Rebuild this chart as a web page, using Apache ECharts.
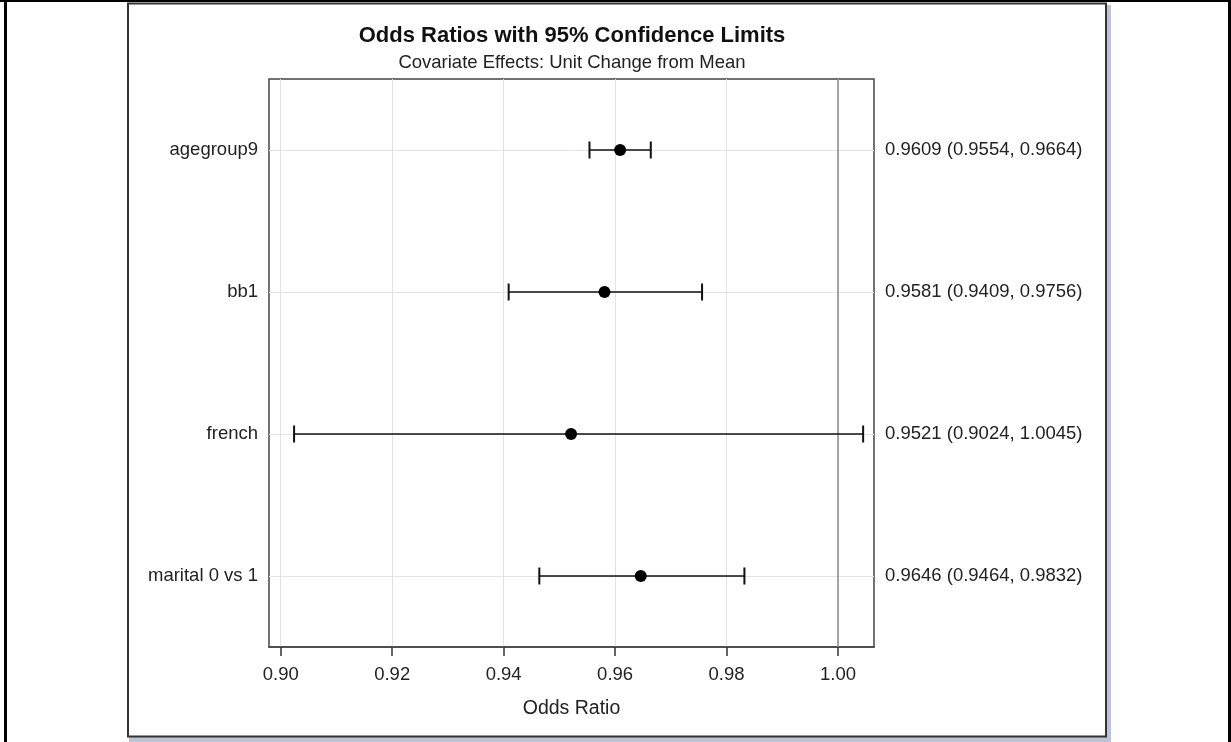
<!DOCTYPE html>
<html>
<head>
<meta charset="utf-8">
<script src="https://cdn.jsdelivr.net/npm/echarts@6/dist/echarts.min.js"></script>
<style>
html,body{margin:0;padding:0;background:#fff;}
#chart{width:1231px;height:742px;}
</style>
</head>
<body>
<div id="chart"></div>
<script>
var categories = ['agegroup9', 'bb1', 'french', 'marital 0 vs 1'];
var estimates = [0.9609, 0.9581, 0.9521, 0.9646];
var lowerCL = [0.9554, 0.9409, 0.9024, 0.9464];
var upperCL = [0.9664, 0.9756, 1.0045, 0.9832];
var xTicks = [0.90, 0.92, 0.94, 0.96, 0.98, 1.00];
var refValue = 1.00;

var FONT = "'Liberation Sans', Arial, sans-serif";
var rightLabels = categories.map(function (c, i) {
  return estimates[i].toFixed(4) + ' (' + lowerCL[i].toFixed(4) + ', ' + upperCL[i].toFixed(4) + ')';
});
var seriesData = categories.map(function (c, i) {
  return [i, estimates[i], lowerCL[i], upperCL[i]];
});

var chart = echarts.init(document.getElementById('chart'), null, {renderer: 'canvas'});
var option = {
  backgroundColor: '#ffffff',
  animation: false,
  graphic: [
    {type: 'rect', z: -10, silent: true, shape: {x: 129, y: 5, width: 982, height: 737}, style: {fill: '#bcc3d6'}},
    {type: 'rect', z: -9, silent: true, shape: {x: 128, y: 3.5, width: 978, height: 733}, style: {fill: '#ffffff', stroke: '#333333', lineWidth: 2}},
    {type: 'rect', z: -8, silent: true, shape: {x: 0, y: 0, width: 1231, height: 2}, style: {fill: '#000000'}},
    {type: 'rect', z: -8, silent: true, shape: {x: 4, y: 0, width: 3, height: 742}, style: {fill: '#000000'}},
    {type: 'rect', z: -8, silent: true, shape: {x: 1228, y: 0, width: 3, height: 742}, style: {fill: '#000000'}}
  ],
  title: [
    {text: 'Odds Ratios with 95% Confidence Limits', left: 572, top: 23, textAlign: 'center', padding: 0,
     textStyle: {fontFamily: FONT, fontSize: 22, fontWeight: 'bold', color: '#111', lineHeight: 26}},
    {text: 'Covariate Effects: Unit Change from Mean', left: 572, top: 52, textAlign: 'center', padding: 0,
     textStyle: {fontFamily: FONT, fontSize: 18.5, fontWeight: 'normal', color: '#222', lineHeight: 22}}
  ],
  grid: {left: 269, top: 79, width: 605, height: 568, show: true, borderColor: '#444', borderWidth: 1.5, backgroundColor: 'transparent', containLabel: false},
  xAxis: {
    type: 'value', min: 0.8979, max: 1.00645,
    name: 'Odds Ratio', nameLocation: 'middle', nameGap: 52,
    nameTextStyle: {fontFamily: FONT, fontSize: 19.5, color: '#222'},
    axisLine: {show: true, lineStyle: {color: '#444', width: 1.5}},
    axisTick: {show: true, length: 9, customValues: xTicks, lineStyle: {color: '#333', width: 1.5}},
    axisLabel: {customValues: xTicks, margin: 18, fontFamily: FONT, fontSize: 18.5, color: '#222',
      formatter: function (v) { return (+v).toFixed(2); }},
    splitLine: {show: true, lineStyle: {color: '#e3e3e3', width: 1}}
  },
  yAxis: [
    {type: 'category', data: categories, inverse: true, position: 'left',
     axisLine: {show: false}, axisTick: {show: false},
     axisLabel: {margin: 11, fontFamily: FONT, fontSize: 18.5, color: '#222', lineHeight: 18, padding: [3, 0, 0, 0]},
     splitLine: {show: false}},
    {type: 'category', data: rightLabels, inverse: true, position: 'right',
     axisLine: {show: false}, axisTick: {show: false},
     axisLabel: {margin: 11, fontFamily: FONT, fontSize: 18.5, color: '#222', lineHeight: 18, padding: [3, 0, 0, 0]},
     splitLine: {show: false}}
  ],
  series: [
    {
      type: 'custom', xAxisIndex: 0, yAxisIndex: 0,
      data: seriesData,
      encode: {x: [1, 2, 3], y: 0},
      z: 5,
      renderItem: function (params, api) {
        var yi = api.value(0);
        var pEst = api.coord([api.value(1), yi]);
        var pLo = api.coord([api.value(2), yi]);
        var pHi = api.coord([api.value(3), yi]);
        var h = 8.5;
        var ls = {stroke: '#111', lineWidth: 1.6};
        return {type: 'group', children: [
          {type: 'line', shape: {x1: pLo[0], y1: pLo[1], x2: pHi[0], y2: pHi[1]}, style: ls},
          {type: 'line', shape: {x1: pLo[0], y1: pLo[1] - h, x2: pLo[0], y2: pLo[1] + h}, style: {stroke: '#111', lineWidth: 2}},
          {type: 'line', shape: {x1: pHi[0], y1: pHi[1] - h, x2: pHi[0], y2: pHi[1] + h}, style: {stroke: '#111', lineWidth: 2}},
          {type: 'circle', shape: {cx: pEst[0], cy: pEst[1], r: 6}, style: {fill: '#000'}}
        ]};
      },
      markLine: {
        silent: true, symbol: ['none', 'none'], label: {show: false}, z: 1,
        data: categories.map(function (c) {
          return {yAxis: c, lineStyle: {color: '#e3e3e3', width: 1, type: 'solid'}};
        }).concat([{xAxis: refValue, lineStyle: {color: '#8a8a8a', width: 1.5, type: 'solid'}}])
      }
    }
  ]
};
chart.setOption(option);
</script>
</body>
</html>
